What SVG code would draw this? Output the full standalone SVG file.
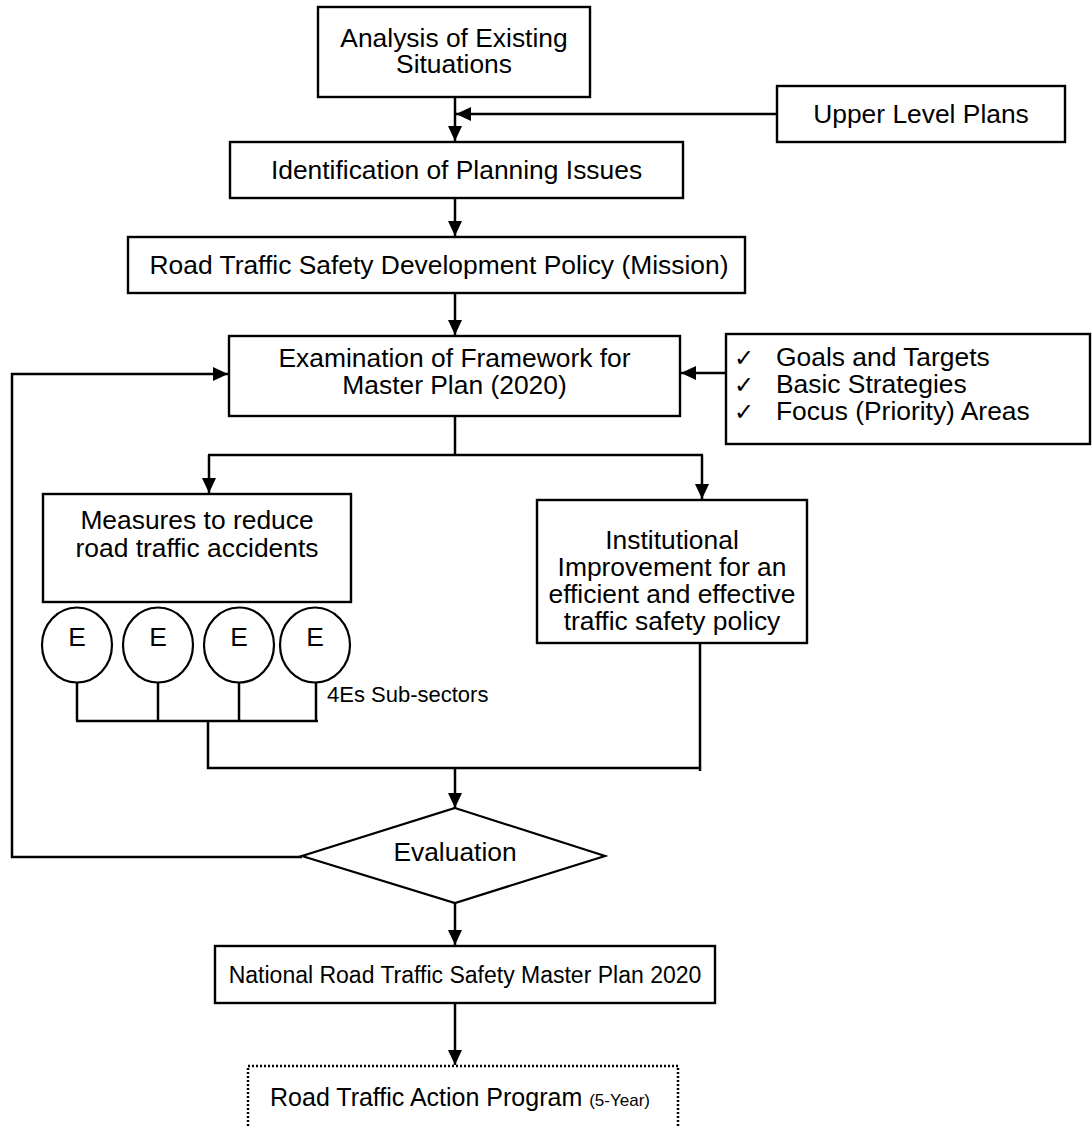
<svg xmlns="http://www.w3.org/2000/svg" width="1092" height="1126" viewBox="0 0 1092 1126">
  <defs>
    <style>
      .box { fill: #fff; stroke: #000; stroke-width: 2.4; }
      .shape { fill: #fff; stroke: #000; stroke-width: 2.2; }
      .dotted { fill: none; stroke: #000; stroke-width: 2.5; stroke-dasharray: 2 2; }
      .wire { fill: none; stroke: #000; stroke-width: 2.5; }
      .t { font-family: "Liberation Sans", Arial, sans-serif; font-size: 26.4px; fill: #000; text-anchor: middle; }
      .ts { font-family: "Liberation Sans", Arial, sans-serif; font-size: 22px; fill: #000; }
      .tl { font-family: "Liberation Sans", Arial, sans-serif; font-size: 26.4px; fill: #000; }
      .tb { font-family: "Liberation Sans", Arial, sans-serif; font-size: 23px; fill: #000; text-anchor: middle; }
      .small { font-size: 17px; }
      .chk { font-family: "DejaVu Sans", sans-serif; font-size: 24px; fill: #000; }
    </style>
    <marker id="arrow" markerUnits="userSpaceOnUse" markerWidth="15" markerHeight="14" refX="15" refY="7" orient="auto">
      <path d="M0,0 L15,7 L0,14 z" fill="#000"/>
    </marker>
  </defs>

  <rect width="1092" height="1126" fill="#fff"/>

  <!-- connectors -->
  <g id="connectors">
    <line class="wire" x1="455" y1="97" x2="455" y2="141" marker-end="url(#arrow)"/>
    <line class="wire" x1="777" y1="114" x2="456" y2="114" marker-end="url(#arrow)"/>
    <line class="wire" x1="455" y1="198" x2="455" y2="236" marker-end="url(#arrow)"/>
    <line class="wire" x1="455" y1="293" x2="455" y2="335" marker-end="url(#arrow)"/>
    <line class="wire" x1="726" y1="373" x2="681" y2="373" marker-end="url(#arrow)"/>
    <!-- split below the framework box -->
    <line class="wire" x1="455" y1="416" x2="455" y2="455"/>
    <line class="wire" x1="208" y1="455" x2="703" y2="455"/>
    <line class="wire" x1="209" y1="455" x2="209" y2="493" marker-end="url(#arrow)"/>
    <line class="wire" x1="702" y1="455" x2="702" y2="499" marker-end="url(#arrow)"/>
    <!-- 4Es sub-sector bus -->
    <line class="wire" x1="77" y1="683" x2="77" y2="721"/>
    <line class="wire" x1="158" y1="683" x2="158" y2="721"/>
    <line class="wire" x1="239" y1="683" x2="239" y2="721"/>
    <line class="wire" x1="316" y1="683" x2="316" y2="721"/>
    <line class="wire" x1="76" y1="721" x2="318" y2="721"/>
    <polyline class="wire" points="208,721 208,768 701,768"/>
    <line class="wire" x1="700" y1="643" x2="700" y2="771"/>
    <line class="wire" x1="455" y1="768" x2="455" y2="808" marker-end="url(#arrow)"/>
    <!-- feedback loop -->
    <polyline class="wire" points="302,857 12,857 12,374 228,374" marker-end="url(#arrow)"/>
    <line class="wire" x1="455" y1="903" x2="455" y2="945" marker-end="url(#arrow)"/>
    <line class="wire" x1="455" y1="1003" x2="455" y2="1065" marker-end="url(#arrow)"/>
  </g>

  <g id="analysis">
    <rect class="box" x="318" y="7" width="272" height="90"/>
    <text class="t" x="454" y="47">Analysis of Existing</text>
    <text class="t" x="454" y="73">Situations</text>
  </g>

  <g id="upper-level-plans">
    <rect class="box" x="777" y="86" width="288" height="56"/>
    <text class="t" x="921" y="123">Upper Level Plans</text>
  </g>

  <g id="planning-issues">
    <rect class="box" x="230" y="142" width="453" height="56"/>
    <text class="t" x="456.5" y="179">Identification of Planning Issues</text>
  </g>

  <g id="policy">
    <rect class="box" x="128" y="237" width="617" height="56"/>
    <text class="t" x="439" y="274">Road Traffic Safety Development Policy (Mission)</text>
  </g>

  <g id="framework">
    <rect class="box" x="229" y="336" width="451" height="80"/>
    <text class="t" x="454.5" y="367">Examination of Framework for</text>
    <text class="t" x="454.5" y="394">Master Plan (2020)</text>
  </g>

  <g id="goals">
    <rect class="box" x="726" y="334" width="364" height="110"/>
    <text class="chk" x="734" y="366">✓</text>
    <text class="chk" x="734" y="393">✓</text>
    <text class="chk" x="734" y="420">✓</text>
    <text class="tl" x="776" y="366">Goals and Targets</text>
    <text class="tl" x="776" y="393">Basic Strategies</text>
    <text class="tl" x="776" y="420">Focus (Priority) Areas</text>
  </g>

  <g id="measures">
    <rect class="box" x="43" y="494" width="308" height="108"/>
    <text class="t" x="197" y="529">Measures to reduce</text>
    <text class="t" x="197" y="557">road traffic accidents</text>
  </g>

  <g id="sub-sectors">
    <ellipse class="shape" cx="77" cy="645" rx="35" ry="37.5"/>
    <ellipse class="shape" cx="158" cy="645" rx="35" ry="37.5"/>
    <ellipse class="shape" cx="239" cy="645" rx="35" ry="37.5"/>
    <ellipse class="shape" cx="315" cy="645" rx="35" ry="37.5"/>
    <text class="t" x="77" y="646">E</text>
    <text class="t" x="158" y="646">E</text>
    <text class="t" x="239" y="646">E</text>
    <text class="t" x="315" y="646">E</text>
    <text class="ts" x="327" y="702">4Es Sub-sectors</text>
  </g>

  <g id="institutional">
    <rect class="box" x="537" y="500" width="270" height="143"/>
    <text class="t" x="672" y="549">Institutional</text>
    <text class="t" x="672" y="576">Improvement for an</text>
    <text class="t" x="672" y="603">efficient and effective</text>
    <text class="t" x="672" y="630">traffic safety policy</text>
  </g>

  <g id="evaluation">
    <polygon class="shape" points="455,808 605,856 455,903 302,856"/>
    <text class="t" x="455" y="861">Evaluation</text>
  </g>

  <g id="master-plan">
    <rect class="box" x="215" y="946" width="500" height="57"/>
    <text class="tb" x="465" y="983">National Road Traffic Safety Master Plan 2020</text>
  </g>

  <g id="action-program">
    <polyline class="dotted" points="248,1130 248,1066 678,1066 678,1130"/>
    <text class="t" x="460" y="1106" style="font-size:25px">Road Traffic Action Program <tspan class="small">(5-Year)</tspan></text>
  </g>
</svg>
